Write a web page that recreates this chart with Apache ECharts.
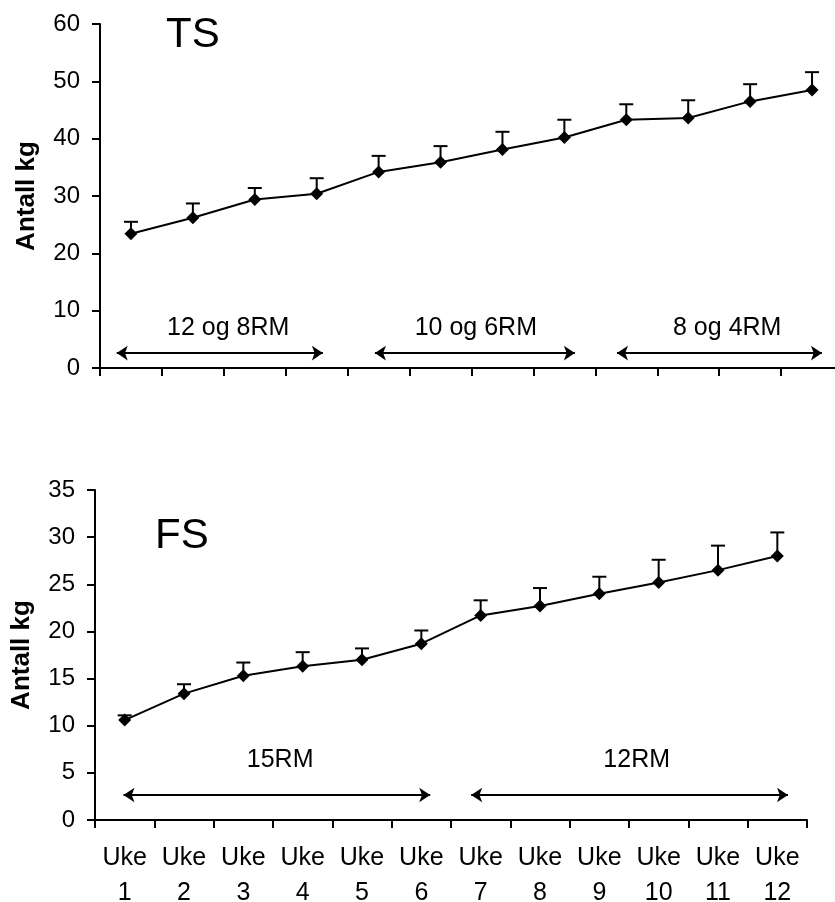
<!DOCTYPE html>
<html><head><meta charset="utf-8">
<script src="https://cdn.jsdelivr.net/npm/echarts@6/dist/echarts.min.js"></script>
<style>html,body{margin:0;padding:0;background:#fff}#c{width:835px;height:902px}</style>
</head><body><div id="c"></div>
<script>
const weeks = ['Uke\n1','Uke\n2','Uke\n3','Uke\n4','Uke\n5','Uke\n6','Uke\n7','Uke\n8','Uke\n9','Uke\n10','Uke\n11','Uke\n12'];
const tsMean  = [23.4, 26.2, 29.4, 30.4, 34.2, 35.9, 38.1, 40.2, 43.3, 43.6, 46.5, 48.5];
const tsUpper = [25.5, 28.7, 31.4, 33.1, 37.0, 38.7, 41.2, 43.3, 46.0, 46.7, 49.5, 51.6];
const fsMean  = [10.6, 13.4, 15.3, 16.3, 17.0, 18.7, 21.7, 22.7, 24.0, 25.2, 26.5, 28.0];
const fsUpper = [11.1, 14.4, 16.7, 17.8, 18.2, 20.1, 23.3, 24.6, 25.8, 27.6, 29.1, 30.5];
// phases: [label, labelX, arrowStart, arrowEnd] in week units (0..12)
const tsPhases = [['12 og 8RM', 2.07, 0.27, 3.6], ['10 og 6RM', 6.07, 4.44, 7.67], ['8 og 4RM', 10.13, 8.35, 11.66]];
const fsPhases = [['15RM', 3.12, 0.48, 5.65], ['12RM', 9.13, 6.34, 11.68]];
const tsArrowY = 2.6, tsLabelY = 6.9;
const fsArrowY = 2.65, fsLabelY = 6.4;

const FONT = 'Liberation Sans, Arial, sans-serif';
const chart = echarts.init(document.getElementById('c'), null, {renderer:'canvas'});

function errSeries(mean, upper, xi, yi) {
  return {
    type: 'custom', xAxisIndex: xi, yAxisIndex: yi, z: 2,
    data: mean.map((m, i) => [i, m, upper[i]]),
    renderItem: function (params, api) {
      const p = api.coord([api.value(0), api.value(1)]);
      const t = api.coord([api.value(0), api.value(2)]);
      const st = {stroke: '#000', lineWidth: 2};
      return {type: 'group', children: [
        {type: 'line', shape: {x1: p[0], y1: p[1], x2: t[0], y2: t[1]}, style: st},
        {type: 'line', shape: {x1: t[0] - 7, y1: t[1], x2: t[0] + 7, y2: t[1]}, style: st}
      ]};
    }
  };
}
function lineSeries(mean, xi, yi) {
  return {type: 'line', xAxisIndex: xi, yAxisIndex: yi, data: mean, z: 3,
    symbol: 'diamond', symbolSize: 13, showSymbol: true,
    lineStyle: {color: '#000', width: 2}, itemStyle: {color: '#000'}, animation: false};
}
function arrowSeries(phases, y, xi, yi) {
  return {type: 'lines', coordinateSystem: 'cartesian2d', xAxisIndex: xi, yAxisIndex: yi,
    symbol: ['arrow', 'arrow'], symbolSize: 11,
    lineStyle: {color: '#000', width: 2, opacity: 1},
    data: phases.map(p => ({coords: [[p[2], y], [p[3], y]]}))};
}
function labelSeries(phases, y, xi, yi) {
  return {type: 'scatter', xAxisIndex: xi, yAxisIndex: yi, symbolSize: 0,
    itemStyle: {opacity: 1},
    data: phases.map(p => ({value: [p[1], y], name: p[0]})),
    label: {show: true, position: 'inside', formatter: '{b}', color: '#000', opacity: 1,
      fontSize: 25, fontFamily: FONT, textBorderWidth: 0}};
}
const catAxis = (gi, showLabel) => ({
  type: 'category', gridIndex: gi, data: weeks, boundaryGap: true,
  axisLine: {lineStyle: {color: '#000', width: 2}},
  axisTick: {show: true, length: 8, lineStyle: {color: '#000', width: 2}, alignWithLabel: false},
  axisLabel: {show: showLabel, interval: 0, color: '#000', fontSize: 25, fontFamily: FONT, lineHeight: 35, margin: 21},
  splitLine: {show: false}
});
const hidValAxis = (gi) => ({type: 'value', gridIndex: gi, min: 0, max: 12, show: false, splitLine: {show: false}});
const valAxis = (gi, max, interval) => ({
  type: 'value', gridIndex: gi, min: 0, max: max, interval: interval,
  name: 'Antall kg', nameLocation: 'middle', nameGap: 60, nameRotate: 90,
  nameTextStyle: {color: '#000', fontSize: 26, fontWeight: 'bold', fontFamily: FONT},
  axisLine: {show: true, lineStyle: {color: '#000', width: 2}},
  axisTick: {show: true, length: 8, lineStyle: {color: '#000', width: 2}},
  axisLabel: {color: '#000', fontSize: 24, fontFamily: FONT, margin: 20},
  splitLine: {show: false}
});

chart.setOption({
  animation: false,
  backgroundColor: '#fff',
  grid: [
    {left: 100, top: 24, width: 743, height: 344, outerBoundsMode: 'none', containLabel: false},
    {left: 95, top: 490, width: 712, height: 330, outerBoundsMode: 'none', containLabel: false}
  ],
  xAxis: [catAxis(0, false), catAxis(1, true), hidValAxis(0), hidValAxis(1)],
  yAxis: [valAxis(0, 60, 10), valAxis(1, 35, 5)],
  graphic: [
    {type: 'text', left: 166, top: 14, style: {text: 'TS', fontSize: 42, fontFamily: FONT, fill: '#000'}},
    {type: 'text', left: 155, top: 515, style: {text: 'FS', fontSize: 42, fontFamily: FONT, fill: '#000'}}
  ],
  series: [
    errSeries(tsMean, tsUpper, 0, 0), lineSeries(tsMean, 0, 0),
    errSeries(fsMean, fsUpper, 1, 1), lineSeries(fsMean, 1, 1),
    arrowSeries(tsPhases, tsArrowY, 2, 0), labelSeries(tsPhases, tsLabelY, 2, 0),
    arrowSeries(fsPhases, fsArrowY, 3, 1), labelSeries(fsPhases, fsLabelY, 3, 1)
  ]
});
</script></body></html>
